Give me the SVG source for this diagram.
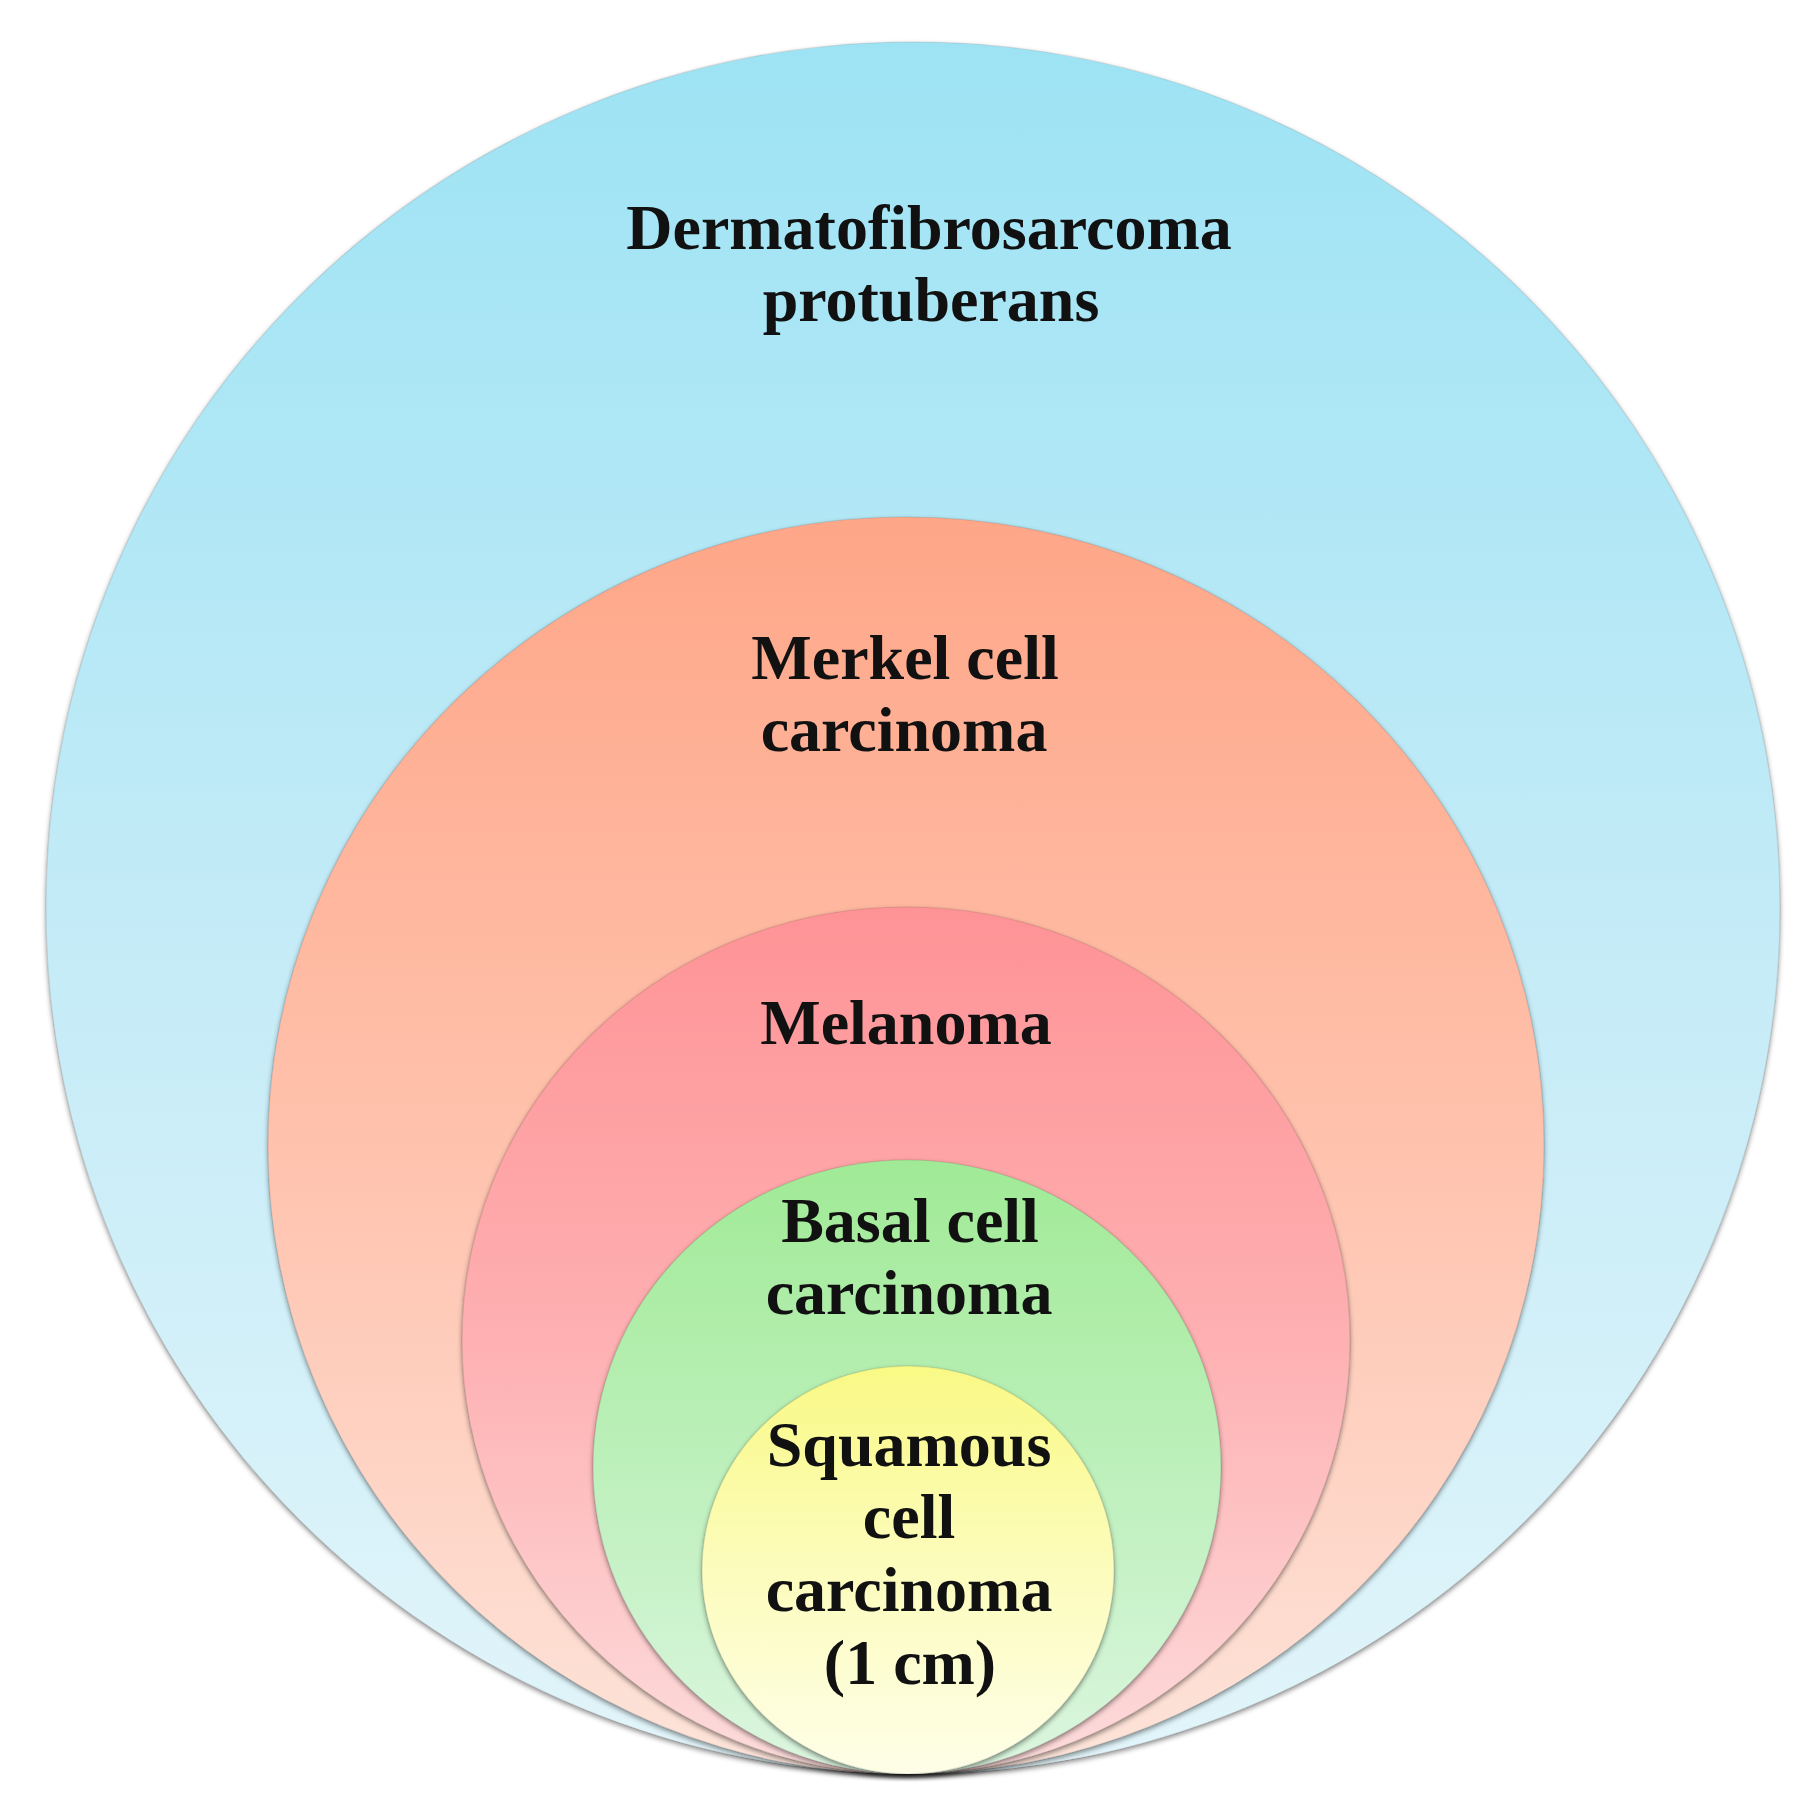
<svg xmlns="http://www.w3.org/2000/svg" width="1808" height="1815" viewBox="0 0 1808 1815">
<style>
  .lbl { font-family: "Liberation Serif", "Times New Roman", serif; font-weight: bold; font-size: 64px; fill: #111; text-anchor: middle; }
  .ring { filter: url(#shadow); stroke: rgba(0,0,0,0.10); stroke-width: 1.2; }
</style>
<defs>
  <filter id="shadow" x="-10%" y="-10%" width="120%" height="125%">
    <feDropShadow dx="0" dy="2.5" stdDeviation="2.5" flood-color="#000" flood-opacity="0.45"/>
  </filter>
  <linearGradient id="gBlue" x1="0" y1="0" x2="0" y2="1">
    <stop offset="0" stop-color="#9de3f4"/>
    <stop offset="0.5" stop-color="#c3ebf7"/>
    <stop offset="1" stop-color="#e2f5fa"/>
  </linearGradient>
  <linearGradient id="gOrange" x1="0" y1="0" x2="0" y2="1">
    <stop offset="0" stop-color="#fea688"/>
    <stop offset="0.5" stop-color="#ffc2ad"/>
    <stop offset="1" stop-color="#fde4da"/>
  </linearGradient>
  <linearGradient id="gRed" x1="0" y1="0" x2="0" y2="1">
    <stop offset="0" stop-color="#fe9396"/>
    <stop offset="0.5" stop-color="#feb0b2"/>
    <stop offset="1" stop-color="#fddcdc"/>
  </linearGradient>
  <linearGradient id="gGreen" x1="0" y1="0" x2="0" y2="1">
    <stop offset="0" stop-color="#a0ea96"/>
    <stop offset="0.5" stop-color="#bdf0bb"/>
    <stop offset="1" stop-color="#dcf6e0"/>
  </linearGradient>
  <linearGradient id="gYellow" x1="0" y1="0" x2="0" y2="1">
    <stop offset="0" stop-color="#f9f985"/>
    <stop offset="0.5" stop-color="#fcfcbd"/>
    <stop offset="1" stop-color="#fefee8"/>
  </linearGradient>
</defs>
<rect width="1808" height="1815" fill="#ffffff"/>
<g id="dfsp">
  <ellipse class="ring" cx="913" cy="908" rx="867" ry="866" fill="url(#gBlue)"/>
  <text class="lbl" x="929" y="249">Dermatofibrosarcoma</text>
  <text class="lbl" x="931" y="321">protuberans</text>
</g>
<g id="merkel">
  <ellipse class="ring" cx="906" cy="1145.5" rx="638" ry="628.5" fill="url(#gOrange)"/>
  <text class="lbl" x="905" y="679">Merkel cell</text>
  <text class="lbl" x="904" y="751">carcinoma</text>
</g>
<g id="melanoma">
  <ellipse class="ring" cx="906" cy="1340.5" rx="444" ry="433.5" fill="url(#gRed)"/>
  <text class="lbl" x="906" y="1044">Melanoma</text>
</g>
<g id="basal">
  <ellipse class="ring" cx="907" cy="1467" rx="314" ry="307" fill="url(#gGreen)"/>
  <text class="lbl" x="910" y="1242">Basal cell</text>
  <text class="lbl" x="909" y="1314">carcinoma</text>
</g>
<g id="squamous">
  <ellipse class="ring" cx="908" cy="1570" rx="206" ry="204" fill="url(#gYellow)"/>
  <text class="lbl" x="909" y="1466">Squamous</text>
  <text class="lbl" x="909" y="1538">cell</text>
  <text class="lbl" x="909" y="1611">carcinoma</text>
  <text class="lbl" x="910" y="1684">(1 cm)</text>
</g>
<g id="connectors"/>
</svg>
